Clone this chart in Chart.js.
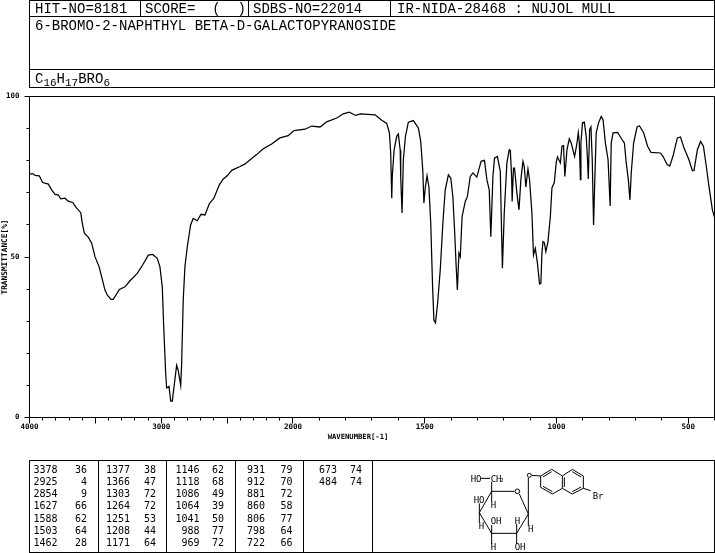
<!DOCTYPE html>
<html><head><meta charset="utf-8">
<script src="https://cdn.jsdelivr.net/npm/chart.js@4/dist/chart.umd.js"></script>
<style>
html,body{margin:0;padding:0;background:#fff;width:715px;height:553px;overflow:hidden}
#wrap{position:relative;width:715px;height:553px}
canvas{position:absolute;left:0;top:0}
.box{position:absolute;border:1px solid #000;box-sizing:border-box}
.rule{position:absolute;background:#000;width:1px}
.t{position:absolute;white-space:pre;color:#000;font-family:"Liberation Mono",monospace;font-size:14px;line-height:14px}
.t sub{font-size:11px;line-height:0;vertical-align:-3px}
.p{position:absolute;white-space:pre;color:#000;font-family:"DejaVu Sans Mono",monospace;font-size:10px;line-height:10px;text-align:right;width:40px}
svg{position:absolute}
svg text{font-family:"DejaVu Sans Mono",monospace;font-size:27px;fill:#000}
</style></head><body><div id="wrap"><canvas id="c" width="715" height="553"></canvas></div>
<script>
const hitLabel="HIT-NO=8181", scoreLabel="SCORE=  (  )", sdbsLabel="SDBS-NO=22014", irLabel="IR-NIDA-28468 : NUJOL MULL";
const compoundName="6-BROMO-2-NAPHTHYL BETA-D-GALACTOPYRANOSIDE";
const formulaHtml="C<sub>16</sub>H<sub>17</sub>BRO<sub>6</sub>";
const xTitle="WAVENUMBER[-1]", yTitle="TRANSMITTANCE[%]";
const xLabelled=[4000,3000,2000,1500,1000,500];
const yLabelled=[0,50,100];

const waveNumbers=[4000,3971,3958,3926,3900,3857,3832,3806,3781,3763,3731,3706,3672,3642,3611,3599,3584,3554,3528,3503,3472,3452,3427,3409,3381,3364,3318,3275,3237,3182,3141,3098,3065,3030,3010,2992,2981,2966,2959,2941,2928,2916,2903,2883,2871,2852,2845,2833,2820,2802,2777,2757,2726,2698,2668,2635,2600,2559,2529,2499,2465,2402,2364,2276,2225,2162,2099,2036,1996,1954,1929,1897,1872,1834,1809,1786,1762,1743,1688,1663,1644,1634,1629,1625,1623,1616,1606,1600,1593,1591,1586,1581,1573,1562,1543,1524,1515,1507,1503,1498,1491,1484,1477,1470,1465,1459,1451,1441,1431,1422,1410,1401,1393,1386,1381,1376,1370,1365,1358,1346,1338,1327,1317,1302,1286,1273,1264,1255,1249,1241,1235,1224,1213,1208,1205,1198,1188,1179,1175,1170,1168,1163,1159,1150,1142,1135,1127,1122,1116,1108,1102,1093,1087,1080,1072,1064,1059,1055,1051,1046,1040,1032,1023,1017,1008,1001,996,985,979,973,968,960,951,944,931,922,917,913,909,907,901,894,887,882,879,874,869,864,859,855,849,840,830,823,814,804,796,792,785,768,751,742,735,727,721,716,707,694,685,669,654,641,605,595,580,570,558,541,529,516,497,484,478,465,453,442,431,421,408,400];
const transmittance=[75.9,75.9,75.4,75.3,73.2,72.7,70.9,69.5,69.3,68.1,68.3,67.4,67.0,65.2,63.8,60.5,57.4,56.2,54.3,50.1,47.0,43.8,39.7,38.1,36.8,36.8,39.9,40.7,42.6,44.9,47.5,50.6,50.8,49.6,47.0,40.7,28.2,13.7,9.2,9.7,5.1,5.1,9.5,16.3,14.7,10.0,16.8,36.6,47.0,53.2,60.0,62.0,61.3,63.3,63.1,66.6,68.3,72.5,74.3,75.3,77.0,78.2,79.0,81.9,83.7,85.2,87.1,87.8,89.4,89.8,90.8,90.5,92.1,93.3,94.6,95.1,94.1,94.6,94.3,92.6,91.6,88.7,82.4,68.3,75.1,83.4,87.6,88.3,83.4,75.1,63.7,80.3,87.6,92.0,92.5,90.2,86.0,76.7,66.8,71.5,75.3,71.8,60.5,40.7,30.3,29.5,35.5,45.9,60.5,70.9,75.6,74.6,68.8,57.4,48.0,39.7,51.2,50.1,62.6,67.3,68.8,75.1,76.2,74.9,79.8,80.1,74.1,70.9,56.3,75.1,80.8,81.3,76.7,57.4,46.5,63.7,79.3,83.4,83.2,75.1,67.3,77.7,77.7,69.9,64.7,74.1,79.8,78.2,71.8,77.4,74.1,63.7,50.6,52.7,48.0,41.6,41.8,51.2,54.8,54.5,51.7,54.8,62.6,71.5,73.2,79.3,81.2,79.3,84.5,84.7,75.1,83.4,86.8,85.5,81.3,85.5,88.7,85.5,74.1,85.5,91.8,92.0,87.6,80.3,74.3,89.7,90.5,80.3,60.0,72.0,88.7,91.8,93.8,92.8,85.5,80.3,65.9,85.5,88.7,88.8,86.6,85.5,79.3,74.1,67.8,76.2,85.5,90.5,90.9,88.7,84.5,82.6,82.4,81.3,78.8,78.3,81.3,87.1,87.4,84.0,80.3,76.9,76.9,83.4,86.0,84.5,78.2,72.0,64.7,62.4];

const peakWaves=[[3378,2925,2854,1627,1588,1503,1462],[1377,1366,1303,1264,1251,1208,1171],[1146,1118,1086,1064,1041,988,969],[931,912,881,860,806,798,722],[673,484]];
const peakValues=[[36,4,9,66,62,64,28],[38,47,72,72,53,44,64],[62,68,49,39,50,77,72],[79,70,72,58,77,64,66],[74,74]];

/* wavenumber axis with the usual change of scale at 2000 */
const axisHigh=4000, axisBreak=2000, axisLow=400, breakFraction=0.3846;
class IrScale extends Chart.LinearScale{
  getPixelForValue(v){
    const f=v>=axisBreak?(axisHigh-v)/(axisHigh-axisBreak)*breakFraction
      :breakFraction+(axisBreak-v)/(axisBreak-axisLow)*(1-breakFraction);
    return this.left+f*this.width;
  }
  getValueForPixel(p){
    const f=(p-this.left)/this.width;
    return f<=breakFraction?axisHigh-f/breakFraction*(axisHigh-axisBreak)
      :axisBreak-(f-breakFraction)/(1-breakFraction)*(axisBreak-axisLow);
  }
}
IrScale.id='irScale'; IrScale.defaults=Chart.LinearScale.defaults;
Chart.register(IrScale);

const tickFont={family:'"DejaVu Sans Mono",monospace',size:7.5,weight:'bold'};
const frame={id:'frame',afterDraw(ch){
  const c=ch.ctx,a=ch.chartArea,x=ch.scales.x,y=ch.scales.y;
  c.save();c.strokeStyle='#000';c.lineWidth=1;c.beginPath();
  c.rect(a.left,a.top,a.right-a.left,a.bottom-a.top);
  x.ticks.forEach(t=>{const p=Math.floor(x.getPixelForValue(t.value))+.5;
    c.moveTo(p,a.bottom);c.lineTo(p,a.bottom+(t.value%500===0?6:3));});
  y.ticks.forEach(t=>{const p=Math.floor(y.getPixelForValue(t.value))+.5;
    c.moveTo(a.left,p);c.lineTo(a.left-(t.value%50===0?5:3),p);});
  c.stroke();
  c.fillStyle='#000';c.font='bold 7.2px "DejaVu Sans Mono",monospace';c.textAlign='center';c.textBaseline='middle';
  c.fillText(xTitle,358,437.5);
  c.restore();
}};
const noPad=s=>{s.paddingLeft=0;s.paddingRight=0;s.paddingTop=0;s.paddingBottom=0;};

new Chart(document.getElementById('c'),{
  type:'line',
  data:{labels:waveNumbers,datasets:[{data:waveNumbers.map((w,i)=>({x:w,y:transmittance[i]})),
    borderColor:'#000',borderWidth:1.25,pointRadius:0,tension:0,fill:false,parsing:false,normalized:false}]},
  options:{responsive:false,animation:false,devicePixelRatio:1,
    layout:{padding:{top:96.5,right:0.5,left:0,bottom:0}},
    plugins:{legend:{display:false},tooltip:{enabled:false},title:{display:false}},
    scales:{
      x:{type:'irScale',min:axisLow,max:axisHigh,
        afterBuildTicks(s){const v=[];for(let k=axisHigh;k>=axisLow;k-=100)v.push({value:k});s.ticks=v;},
        afterFit(s){s.height=135.5;noPad(s);},
        grid:{drawOnChartArea:false,drawTicks:false},border:{display:false},
        ticks:{autoSkip:false,maxRotation:0,minRotation:0,padding:5,color:'#000',font:tickFont,
          callback:v=>xLabelled.includes(v)?String(v):''}},
      y:{type:'linear',min:0,max:100,
        afterFit(s){s.width=29.5;noPad(s);},
        grid:{drawOnChartArea:false,drawTicks:false},border:{display:false},
        title:{display:true,text:yTitle,color:'#000',padding:0,font:{family:'"DejaVu Sans Mono",monospace',size:7.8,weight:'bold'}},
        ticks:{stepSize:10,autoSkip:false,padding:10,color:'#000',font:tickFont,
          callback:v=>yLabelled.includes(v)?String(v):''}}
    }
  },
  plugins:[frame]
});

/* header and peak table */
const wrap=document.getElementById('wrap');
function box(l,t,w,h){const d=document.createElement('div');d.className='box';d.style.cssText=`left:${l}px;top:${t}px;width:${w}px;height:${h}px`;wrap.appendChild(d);}
function rule(l,t,h){const d=document.createElement('div');d.className='rule';d.style.cssText=`left:${l}px;top:${t}px;height:${h}px`;wrap.appendChild(d);}
function text(s,l,t,html){const d=document.createElement('div');d.className='t';d.style.left=l+'px';d.style.top=t+'px';if(html)d.innerHTML=s;else d.textContent=s;wrap.appendChild(d);}
box(29,0,686,17);box(29,16,686,54);box(29,69,686,19);
rule(140,0,17);rule(248,0,17);rule(390,0,17);
text(hitLabel,35,2);text(scoreLabel,145,2);text(sdbsLabel,253,2);text(irLabel,397,2);
text(compoundName,35,19);text(formulaHtml,35,72,true);

box(29,460,686,93);
[98,166,235,303,372].forEach(l=>rule(l,460,93));
const waveRight=[57.5,130,199.5,265,337], valueRight=[87,156,224,292.5,362];
const rowTop=[464.5,476.8,489,501.2,513.5,526,538.3];
function cell(s,r,t){const d=document.createElement('div');d.className='p';d.textContent=s;d.style.left=(r-40)+'px';d.style.top=t+'px';wrap.appendChild(d);}
peakWaves.forEach((col,i)=>col.forEach((w,j)=>{cell(String(w),waveRight[i],rowTop[j]);cell(String(peakValues[i][j]),valueRight[i],rowTop[j]);}));
</script>
<svg style="left:400px;top:400px" width="315" height="153" viewBox="0 0 945 459">
<g fill="none" stroke="#000" stroke-width="3">
<path d="M396 226L422 228M422 228L455 208L487 228L487 265L457 282L422 262L422 228"/>
<path d="M487 228L517 208L550 228L550 265L517 282L487 265"/>
<path d="M429 231L455 215M429 259L457 275M493 232L493 261M517 215L543 231M543 261L517 275M550 265L572 272"/>
<circle cx="388" cy="226" r="6"/><circle cx="352" cy="274" r="7"/>
<path d="M275 274L343 274M358 282L385 342L350 400L275 400L238 338L275 274"/>
<path d="M385 234L385 378M275 245L275 305M243 235L270 235M238 310L238 368M275 375L275 432M350 372L350 432"/>
</g>
<text x="212" y="245">HO</text><text x="272" y="245">CH</text><text x="301" y="245" style="font-size:16px">2</text>
<text x="221" y="308">HO</text><text x="272" y="324">H</text><text x="236" y="386">H</text>
<text x="272" y="371">OH</text><text x="344" y="371">H</text><text x="384" y="396">H</text>
<text x="272" y="449">H</text><text x="344" y="449">OH</text><text x="578" y="296">Br</text>
</svg>
</body></html>
